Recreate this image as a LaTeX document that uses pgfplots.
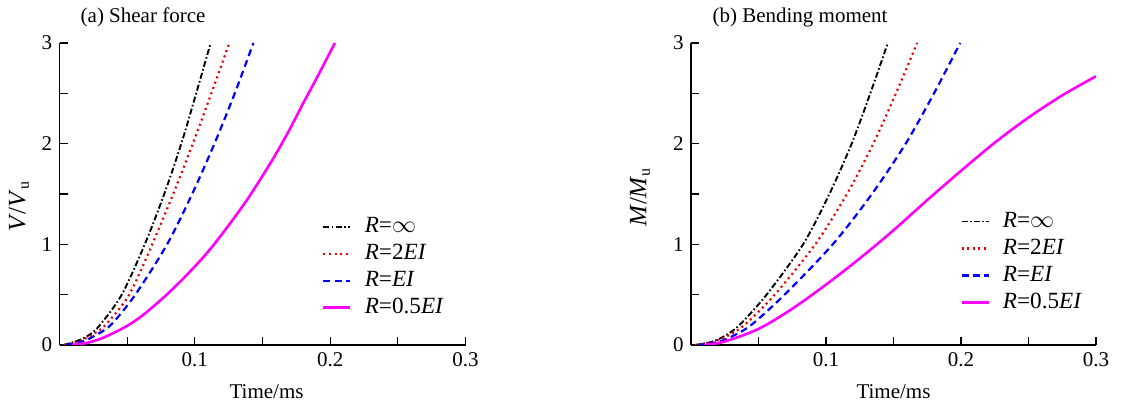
\documentclass[border=0pt]{standalone}
\usepackage{fontspec}
\setmainfont{Liberation Serif}
\usepackage{pgfplots}
\pgfplotsset{compat=1.18}
\definecolor{cred}{RGB}{235,0,0}
\definecolor{cblue}{RGB}{0,0,255}
\definecolor{cmag}{RGB}{255,0,255}
\newcommand{\fs}{\fontsize{10.5}{12}\selectfont}
\newcommand{\fl}{\fontsize{11.6}{13}\selectfont}
\newcommand{\fy}{\fontsize{12.5}{14}\selectfont}
\pgfplotsset{
  mystyle/.style={
    scale only axis, width=203pt, height=151pt,
    xmin=0, xmax=0.3, ymin=0, ymax=3,
    clip mode=individual,
    axis x line*=bottom, axis y line*=left,
    tick align=inside,
    xtick={0.1,0.2,0.3}, ytick={0,1,2,3},
    minor xtick={0.05,0.15,0.25}, minor ytick={0.5,1.5,2.5},
    major tick length=4pt, minor tick length=4pt,
    every tick/.style={black, line width=0.6pt},
    axis line style={line width=0.7pt},
    /pgf/number format/assume math mode=true,
    ticklabel style={font=\fs},
    label style={font=\fs},
    xlabel={Time/ms},
    xlabel style={at={(axis description cs:0.51,-0.155)}, anchor=center},
    legend cell align=left,
    legend style={draw=none, fill=none, font=\fl, row sep=0.3pt, inner sep=0pt},
    legend image code/.code={\draw[##1] (0pt,0pt) -- (13.5pt,0pt); \path (18pt,0pt);},
  },
  sblack/.style={black, line width=0.95pt, dash pattern=on 3pt off 1.2pt on 0.8pt off 1.2pt},
  sred/.style={cred, line width=1.1pt, dash pattern=on 1pt off 1.8pt},
  sblue/.style={cblue, line width=1.1pt, dash pattern=on 3.5pt off 2.2pt},
  smag/.style={cmag, line width=1.3pt},
}
\begin{document}
\fs
\begin{tikzpicture}
\useasboundingbox (0,0) rectangle (561pt,200.5pt);
\begin{axis}[mystyle, at={(29.75pt,28pt)}, anchor=south west,
  ylabel={\fy\textit{V}/\textit{V}\textsubscript{\fontsize{8}{9}\selectfont u}},
  ylabel style={at={(axis description cs:-0.1,0.46)}, anchor=center},
  legend style={at={(axis description cs:0.646,0.078)}, anchor=south west},
]
\addplot[sblack, smooth] coordinates {(0.003,0) (0.013,0.04) (0.022,0.1) (0.030,0.2) (0.046,0.5) (0.063,1.0) (0.0774,1.5) (0.090,2.0) (0.101,2.5) (0.1117,3.0)};
\addlegendentry{\textit{R}=$\infty$}
\addplot[sred, smooth] coordinates {(0.003,0) (0.015,0.04) (0.024,0.1) (0.034,0.2) (0.0515,0.5) (0.0685,1.0) (0.084,1.5) (0.0985,2.0) (0.1122,2.5) (0.1255,3.0)};
\addlegendentry{\textit{R}=2\textit{EI}}
\addplot[sblue, smooth] coordinates {(0.005,0) (0.018,0.04) (0.027,0.1) (0.038,0.2) (0.056,0.5) (0.0795,1.0) (0.098,1.5) (0.1145,2.0) (0.1295,2.5) (0.1433,3.0)};
\addlegendentry{\textit{R}=\textit{EI}}
\addplot[smag, smooth] coordinates {(0.009,0) (0.02,0.02) (0.03,0.06) (0.04,0.12) (0.05,0.19) (0.06,0.28) (0.07,0.39) (0.08,0.51) (0.09,0.64) (0.10,0.78) (0.11,0.93) (0.12,1.10) (0.13,1.28) (0.14,1.47) (0.15,1.68) (0.16,1.90) (0.17,2.14) (0.18,2.40) (0.19,2.65) (0.2035,3.0)};
\addlegendentry{\textit{R}=0.5\textit{EI}}
\node[anchor=west, font=\fs] at (axis description cs:0.034,1.086) {(a) Shear force};
\end{axis}
\begin{axis}[mystyle, at={(345.5pt,28pt)}, anchor=south west, width=202.5pt,
  ylabel={\fy\textit{M}/\textit{M}\textsubscript{\fontsize{8}{9}\selectfont u}},
  ylabel style={at={(axis description cs:-0.126,0.49)}, anchor=center},
  xlabel style={at={(axis description cs:0.50,-0.155)}},
  legend style={at={(axis description cs:0.664,0.095)}, anchor=south west},
]
\addplot[sblack, smooth] coordinates {(0.003,0) (0.015,0.03) (0.025,0.09) (0.036,0.2) (0.056,0.5) (0.083,1.0) (0.1025,1.5) (0.119,2.0) (0.1328,2.5) (0.1458,3.0)};
\addlegendentry{\textit{R}=$\infty$}
\addplot[sred, smooth] coordinates {(0.003,0) (0.016,0.03) (0.027,0.09) (0.0397,0.2) (0.062,0.5) (0.092,1.0) (0.1155,1.5) (0.135,2.0) (0.1518,2.5) (0.1675,3.0)};
\addlegendentry{\textit{R}=2\textit{EI}}
\addplot[sblue, smooth] coordinates {(0.005,0) (0.02,0.03) (0.031,0.09) (0.0447,0.2) (0.0693,0.5) (0.105,1.0) (0.134,1.5) (0.159,2.0) (0.180,2.5) (0.1994,3.0)};
\addlegendentry{\textit{R}=\textit{EI}}
\addplot[smag, smooth] coordinates {(0.01,0) (0.025,0.035) (0.05,0.16) (0.075,0.36) (0.1,0.6) (0.125,0.86) (0.15,1.14) (0.175,1.44) (0.2,1.73) (0.225,2.01) (0.25,2.26) (0.275,2.48) (0.3,2.67)};
\addlegendentry{\textit{R}=0.5\textit{EI}}
\node[anchor=west, font=\fs] at (axis description cs:0.035,1.086) {(b) Bending moment};
\end{axis}
\end{tikzpicture}
\end{document}
